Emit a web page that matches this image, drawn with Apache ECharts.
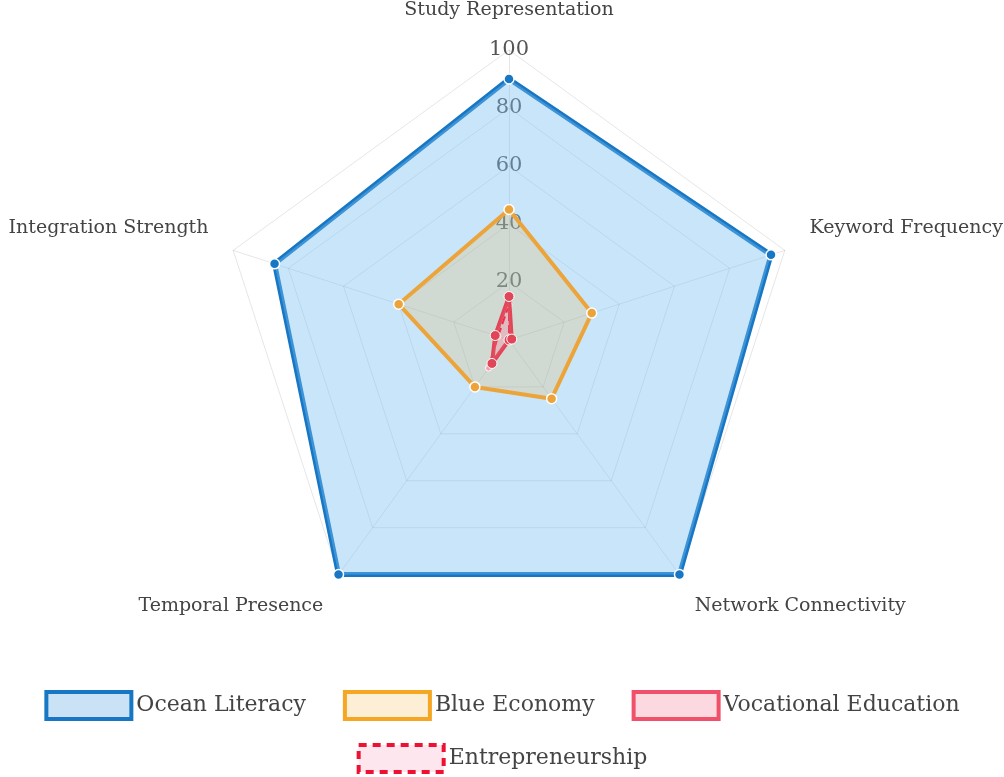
<!DOCTYPE html>
<html lang="en">
<head>
  <meta charset="UTF-8">
  <title>Radar</title>
  <script src="https://cdn.jsdelivr.net/npm/echarts@6/dist/echarts.min.js"></script>
  <style>html,body{margin:0;padding:0;background:#fff;}</style>
</head>
<body>
<div id="box" style="width: 1004px;height: 777px;"></div>
<script>
  // indicators, listed clockwise from the top as they appear in the picture
  var indicators = ['Study Representation', 'Keyword Frequency', 'Network Connectivity', 'Temporal Presence', 'Integration Strength'];
  var oceanLiteracy = [90, 95, 100, 100, 85];
  var blueEconomy = [45, 30, 25, 20, 40];
  var vocationalEducation = [15, 1, 0, 10, 5];
  var entrepreneurship = [12, 0, 0, 12, 4];
  var ticks = [20, 40, 60, 80, 100];

  // echarts lays indicators out counter-clockwise, so reorder
  var order = [0, 4, 3, 2, 1];
  function reorder(arr) {
    return order.map(function (i) { return arr[i]; });
  }

  var font = 'DejaVu Serif';
  var nameClass = {
    'Study Representation': 'top',
    'Keyword Frequency': 'side',
    'Integration Strength': 'side',
    'Network Connectivity': 'low',
    'Temporal Presence': 'low'
  };

  var radarIndicators = reorder(indicators).map(function (n, i) {
    var ind = {name: n, min: 0, max: 100};
    if (i === 0) {
      ind.axisLabel = {
        show: true,
        margin: 0,
        align: 'center',
        verticalAlign: 'middle',
        color: '#555',
        fontFamily: font,
        fontSize: 21,
        showMinLabel: false,
        formatter: function (v) { return ticks.indexOf(v) >= 0 ? String(v) : ''; }
      };
    }
    return ind;
  });

  var myChart = echarts.init(document.getElementById('box'));

  var option = {
    animation: false,
    legend: [{
      top: 685,
      left: 'center',
      itemWidth: 85,
      itemHeight: 27,
      itemGap: 37,
      textStyle: {fontFamily: font, fontSize: 22, color: '#444'},
      data: [
        {name: 'Ocean Literacy', icon: 'rect', itemStyle: {color: '#c9e2f5', borderColor: '#1777c4', borderWidth: 4}},
        {name: 'Blue Economy', icon: 'rect', itemStyle: {color: '#fdefd6', borderColor: '#f5a623', borderWidth: 4}},
        {name: 'Vocational Education', icon: 'rect', itemStyle: {color: '#fcd9e0', borderColor: '#f0506a', borderWidth: 4}}
      ]
    }, {
      top: 738,
      left: 'center',
      itemWidth: 85,
      itemHeight: 27,
      textStyle: {fontFamily: font, fontSize: 22, color: '#444'},
      data: [
        {name: 'Entrepreneurship', icon: 'rect', itemStyle: {color: '#fde6ee', borderColor: '#ee1133', borderWidth: 4, borderType: [8, 6]}}
      ]
    }],
    radar: {
      center: [509, 340],
      radius: 290,
      splitNumber: 5,
      shape: 'polygon',
      nameGap: 26,
      axisName: {
        color: '#444',
        fontFamily: font,
        fontSize: 19,
        formatter: function (name) {
          return '{' + nameClass[name] + '|' + name + '}';
        },
        rich: {
          top: {fontFamily: font, fontSize: 19, color: '#444', padding: [0, 0, 4, 0]},
          side: {fontFamily: font, fontSize: 19, color: '#444', padding: [0, 0, 28, 0]},
          low: {fontFamily: font, fontSize: 19, color: '#444', padding: [20, 0, 0, 0]}
        }
      },
      axisLine: {lineStyle: {color: 'rgba(0,0,0,0.1)'}},
      splitLine: {lineStyle: {color: 'rgba(0,0,0,0.1)'}},
      splitArea: {show: false},
      indicator: radarIndicators
    },
    series: [{
      name: 'Ocean Literacy',
      type: 'radar',
      z: 2,
      symbol: 'circle',
      symbolSize: 10,
      itemStyle: {color: '#1777c4', borderColor: '#fff', borderWidth: 1.5},
      lineStyle: {color: '#1777c4', width: 5},
      areaStyle: {color: 'rgba(120,190,240,0.4)', opacity: 1},
      data: [{name: 'Ocean Literacy', value: reorder(oceanLiteracy)}]
    }, {
      name: 'Blue Economy',
      type: 'radar',
      z: 3,
      symbol: 'circle',
      symbolSize: 10,
      itemStyle: {color: '#eca43a', borderColor: '#fff', borderWidth: 1.5},
      lineStyle: {color: '#eca43a', width: 4},
      areaStyle: {color: 'rgba(240,170,60,0.2)', opacity: 1},
      data: [{name: 'Blue Economy', value: reorder(blueEconomy)}]
    }, {
      name: 'Vocational Education',
      type: 'radar',
      z: 5,
      symbol: 'circle',
      symbolSize: 10,
      itemStyle: {color: '#e04558', borderColor: '#fff', borderWidth: 1},
      lineStyle: {color: '#e04558', width: 4},
      areaStyle: {color: 'rgba(240,100,120,0.2)', opacity: 1},
      data: [{name: 'Vocational Education', value: reorder(vocationalEducation)}]
    }, {
      name: 'Entrepreneurship',
      type: 'radar',
      z: 4,
      symbol: 'circle',
      symbolSize: 6,
      itemStyle: {color: '#f3a0b0', borderColor: '#fff', borderWidth: 1},
      lineStyle: {color: '#ee1133', width: 2, type: 'dashed'},
      areaStyle: {color: 'rgba(255,180,200,0.2)', opacity: 1},
      data: [{name: 'Entrepreneurship', value: reorder(entrepreneurship)}]
    }]
  };
  myChart.setOption(option);
</script>
</body>
</html>
